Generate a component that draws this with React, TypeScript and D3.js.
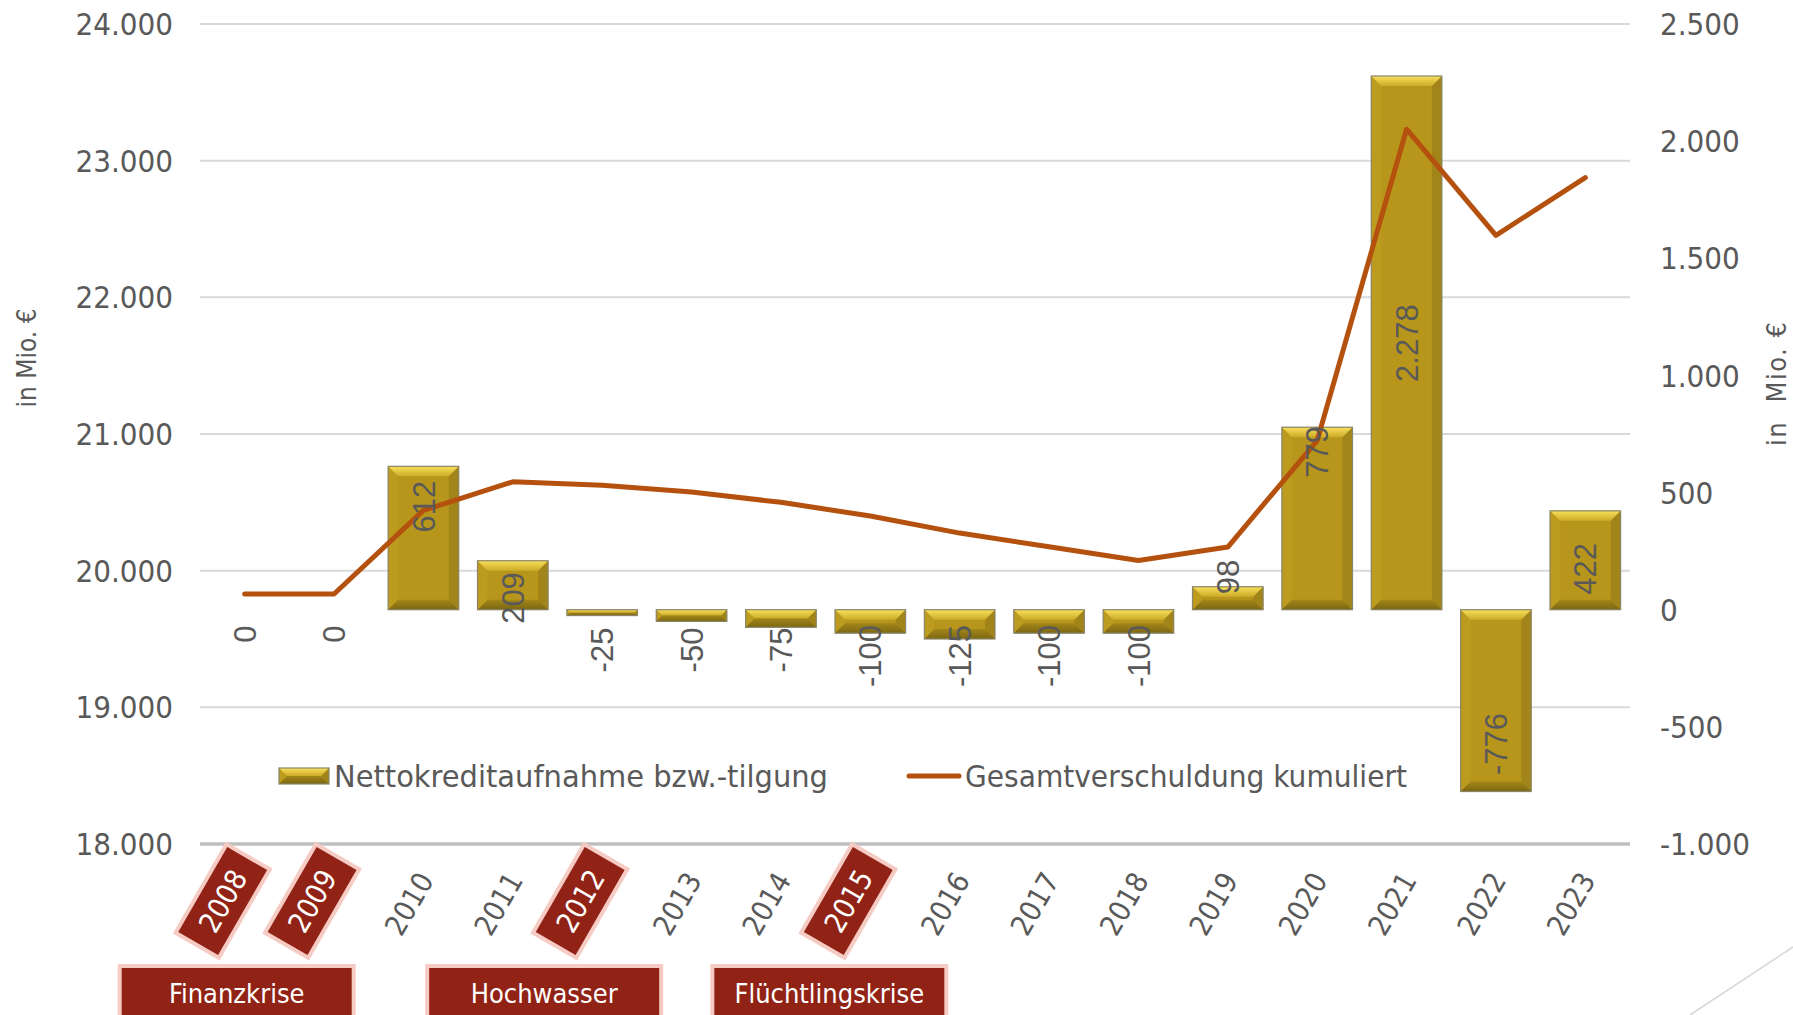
import React from 'react';
import * as d3 from 'd3';

// ---------- data ----------
const years = ['2008', '2009', '2010', '2011', '2012', '2013', '2014', '2015', '2016', '2017', '2018', '2019', '2020', '2021', '2022', '2023'];
const netBorrowing = [0, 0, 612, 209, -25, -50, -75, -100, -125, -100, -100, 98, 779, 2278, -776, 422];
const totalDebt = [19829, 19829, 20441, 20650, 20625, 20575, 20500, 20400, 20275, 20175, 20075, 20173, 20952, 23230, 22454, 22876];
// where each (rotated) data label sits, in units of the right axis
const labelAnchor = [-104, -104, 440, 50, -172, -172, -172, -198, -198, -198, -198, 140, 674, 1138, -573, 174];
const leftTicks = [18000, 19000, 20000, 21000, 22000, 23000, 24000];
const rightTicks = [-1000, -500, 0, 500, 1000, 1500, 2000, 2500];
const crisisYears = ['2008', '2009', '2012', '2015'];
const eventLabels = ['Finanzkrise', 'Hochwasser', 'Flüchtlingskrise'];
const eventYears = ['2008', '2012', '2015'];
const legendBarText = 'Nettokreditaufnahme bzw.-tilgung';
const legendLineText = 'Gesamtverschuldung kumuliert';
const axisTitleLeft = 'in Mio. €';
const axisTitleRight = 'in  Mio. €';

// ---------- layout ----------
const W = 1793;
const H = 1015;
const M = { left: 200, right: 1630, top: 24, bottom: 844 };
const FONT = "'DejaVu Sans Condensed', 'DejaVu Sans', 'Liberation Sans', sans-serif";
const LABEL_FONT = "'Liberation Sans', Arial, sans-serif";
const TXT = '#595959';
const eventOffsets = [-8, -58, -41];

const de = d3.formatLocale({ decimal: ',', thousands: '.', grouping: [3], currency: ['', '€'], minus: '-' });
const fmt = de.format(',');

function BevelBar({ x, y, w, h }: { x: number; y: number; w: number; h: number }) {
  const b = Math.max(0.5, Math.min(10, h / 2, w / 2));
  const top = `${x},${y} ${x + w},${y} ${x + w - b},${y + b} ${x + b},${y + b}`;
  const bot = `${x},${y + h} ${x + w},${y + h} ${x + w - b},${y + h - b} ${x + b},${y + h - b}`;
  const left = `${x},${y} ${x + b},${y + b} ${x + b},${y + h - b} ${x},${y + h}`;
  const right = `${x + w},${y} ${x + w - b},${y + b} ${x + w - b},${y + h - b} ${x + w},${y + h}`;
  return (
    <g>
      <rect x={x} y={y} width={w} height={h} fill="#B8961B" />
      <polygon points={left} fill="#BD9B1F" />
      <polygon points={right} fill="#A2851A" />
      <polygon points={top} fill="url(#bevTop)" />
      <polygon points={bot} fill="url(#bevBot)" />
      <rect x={x} y={y} width={w} height={h} fill="none" stroke="#8a856a" strokeWidth={1.2} />
    </g>
  );
}

export default function App() {
  const x = d3.scaleBand<string>().domain(years).range([M.left, M.right]).paddingInner(0.21).paddingOuter(0.105);
  const cx = (yr: string) => (x(yr) as number) + x.bandwidth() / 2;
  const yL = d3.scaleLinear().domain([18000, 24000]).range([M.bottom, M.top]);
  const yR = d3.scaleLinear().domain([-1000, 2500]).range([M.bottom, M.top]);

  const line = d3
    .line<number>()
    .x((_, i) => cx(years[i]))
    .y((d) => yL(d));

  const labelEndY = 875;
  const rot = -60;

  return (
    <svg width={W} height={H} style={{ position: 'absolute', left: 0, top: 0, background: '#fff' }}>
      <defs>
        <linearGradient id="bevTop" x1="0" y1="0" x2="0" y2="1">
          <stop offset="0" stopColor="#F8E05A" />
          <stop offset="1" stopColor="#CDAB28" />
        </linearGradient>
        <linearGradient id="bevBot" x1="0" y1="0" x2="0" y2="1">
          <stop offset="0" stopColor="#A38719" />
          <stop offset="1" stopColor="#7C6612" />
        </linearGradient>
      </defs>
      <rect x={0} y={0} width={W} height={H} fill="#fff" />

      {/* gridlines */}
      {leftTicks.slice(1).map((t) => (
        <line key={t} x1={M.left} x2={M.right} y1={yL(t)} y2={yL(t)} stroke="#d9d9d9" strokeWidth={2} />
      ))}
      <line x1={M.left} x2={M.right} y1={yL(18000)} y2={yL(18000)} stroke="#bfbfbf" strokeWidth={3.5} />

      {/* left axis labels */}
      {leftTicks.map((t) => (
        <text key={t} x={173} y={yL(t)} dy="0.36em" textAnchor="end" fontFamily={FONT} fontSize={31} fill={TXT}>
          {fmt(t)}
        </text>
      ))}
      {/* right axis labels */}
      {rightTicks.map((t) => (
        <text key={t} x={1660} y={yR(t)} dy="0.36em" textAnchor="start" fontFamily={FONT} fontSize={31} fill={TXT}>
          {fmt(t)}
        </text>
      ))}

      {/* axis titles */}
      <text transform={`translate(27,358) rotate(-90)`} dy="0.36em" textAnchor="middle" fontFamily={FONT} fontSize={26} fill={TXT}>
        {axisTitleLeft}
      </text>
      <text transform={`translate(1776,384) rotate(-90)`} dy="0.36em" textAnchor="middle" fontFamily={FONT} fontSize={27} fill={TXT} style={{ whiteSpace: 'pre' }} textLength={124} lengthAdjust="spacing">
        {axisTitleRight}
      </text>

      {/* bars */}
      {netBorrowing.map((v, i) => {
        const y0 = yR(0);
        const y1 = yR(v);
        const top = Math.min(y0, y1);
        const h = Math.abs(y1 - y0);
        if (h < 0.5) return null;
        return <BevelBar key={years[i]} x={x(years[i]) as number} y={top} w={x.bandwidth()} h={h} />;
      })}

      {/* line */}
      <path d={line(totalDebt) || ''} fill="none" stroke="#B5510F" strokeWidth={5} strokeLinejoin="round" strokeLinecap="round" />

      {/* data labels */}
      {netBorrowing.map((v, i) => (
        <text
          key={'l' + years[i]}
          transform={`translate(${cx(years[i])},${yR(labelAnchor[i])}) rotate(-90)`}
          textAnchor="middle"
          dy="0.36em"
          fontFamily={LABEL_FONT}
          fontSize={31}
          fill={TXT}
        >
          {fmt(v)}
        </text>
      ))}

      {/* legend */}
      <BevelBar x={279} y={768} w={50} h={16} />
      <text x={334} y={776} dy="0.36em" fontFamily={FONT} fontSize={30} fill={TXT} textLength={494} lengthAdjust="spacingAndGlyphs">
        {legendBarText}
      </text>
      <line x1={909} x2={959} y1={776} y2={776} stroke="#B5510F" strokeWidth={5} strokeLinecap="round" />
      <text x={965} y={776} dy="0.36em" fontFamily={FONT} fontSize={30} fill={TXT} textLength={442} lengthAdjust="spacingAndGlyphs">
        {legendLineText}
      </text>

      {/* x-axis labels */}
      {years.map((yr) => {
        const isCrisis = crisisYears.includes(yr);
        if (isCrisis) return null;
        return (
          <text
            key={'x' + yr}
            transform={`translate(${cx(yr) + 2},${labelEndY}) rotate(${rot})`}
            textAnchor="end"
            dy="0.36em"
            fontFamily={FONT}
            fontSize={29}
            fill={TXT}
          >
            {yr}
          </text>
        );
      })}

      {/* crisis year badges */}
      {crisisYears.map((yr) => {
        const bx = cx(yr) - 22;
        const by = 901;
        return (
          <g key={'b' + yr} transform={`translate(${bx},${by}) rotate(${rot})`}>
            <rect x={-51} y={-25} width={102} height={50} fill="#912316" stroke="#f6cbc4" strokeWidth={4} />
            <text x={0} y={0} dy="0.36em" textAnchor="middle" fontFamily={FONT} fontSize={29} fill="#fff">
              {yr}
            </text>
          </g>
        );
      })}

      {/* event boxes */}
      {eventLabels.map((lab, i) => {
        const c = cx(eventYears[i]) + eventOffsets[i];
        return (
          <g key={lab}>
            <rect x={c - 117} y={966} width={234} height={70} fill="#912316" stroke="#f6cbc4" strokeWidth={4} />
            <text x={c} y={993} dy="0.36em" textAnchor="middle" fontFamily={FONT} fontSize={27} fill="#fff">
              {lab}
            </text>
          </g>
        );
      })}

      {/* slide decoration */}
      <line x1={1690} y1={1015} x2={1793} y2={947} stroke="#d6d6d6" strokeWidth={1.5} />
    </svg>
  );
}
